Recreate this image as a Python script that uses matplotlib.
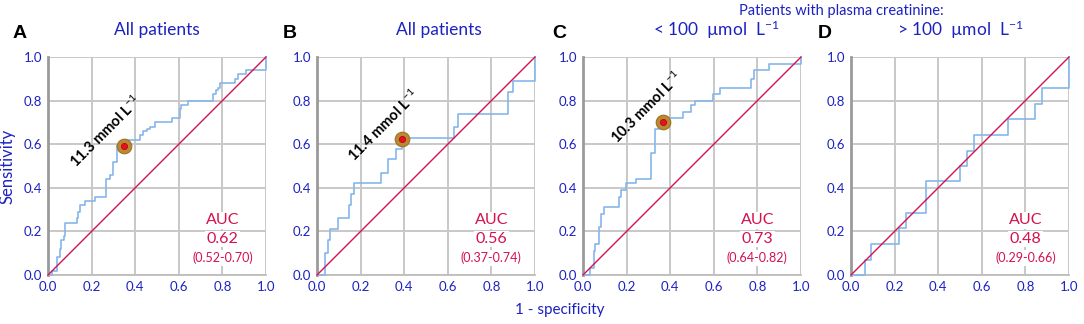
import matplotlib
matplotlib.use('Agg')
import matplotlib.pyplot as plt
import numpy as np

plt.rcParams['font.family'] = ['Lato', 'DejaVu Sans']
plt.rcParams['mathtext.fontset'] = 'custom'
plt.rcParams['mathtext.rm'] = 'Lato'
plt.rcParams['mathtext.it'] = 'Lato:italic'
plt.rcParams['mathtext.bf'] = 'Lato:bold'

# ROC staircase points: x where the curve steps up, y after the step
fpr_a = [0, 0.02, 0.04, 0.041, 0.053, 0.061, 0.072, 0.076, 0.08, 0.133, 0.138, 0.148, 0.17, 0.214,
         0.267, 0.285, 0.30, 0.316, 0.36, 0.42, 0.435, 0.455, 0.47, 0.49, 0.57, 0.605, 0.61, 0.64,
         0.755, 0.77, 0.78, 0.79, 0.858, 0.87, 0.91, 1.0]
tpr_a = [0, 0.02, 0.06, 0.084, 0.12, 0.16, 0.18, 0.21, 0.24, 0.26, 0.29, 0.32, 0.34, 0.36,
         0.44, 0.46, 0.52, 0.595, 0.62, 0.64, 0.66, 0.67, 0.68, 0.70, 0.72, 0.76, 0.78, 0.80,
         0.83, 0.85, 0.86, 0.88, 0.90, 0.92, 0.94, 1.0]

fpr_b = [0, 0.038, 0.05, 0.058, 0.096, 0.148, 0.155, 0.168, 0.293, 0.324, 0.363, 0.39, 0.405,
         0.629, 0.645, 0.878, 0.898, 1.0]
tpr_b = [0, 0.10, 0.16, 0.21, 0.26, 0.32, 0.37, 0.42, 0.47, 0.53, 0.58, 0.62, 0.63,
         0.68, 0.74, 0.84, 0.89, 1.0]

fpr_c = [0, 0.03, 0.049, 0.055, 0.072, 0.084, 0.095, 0.163, 0.176, 0.198, 0.244, 0.311, 0.328,
         0.35, 0.37, 0.389, 0.461, 0.495, 0.514, 0.598, 0.629, 0.771, 0.786, 0.855, 1.0]
tpr_c = [0, 0.03, 0.11, 0.14, 0.22, 0.28, 0.31, 0.36, 0.39, 0.42, 0.44, 0.56, 0.67,
         0.68, 0.70, 0.72, 0.75, 0.78, 0.80, 0.83, 0.86, 0.90, 0.94, 0.97, 1.0]

fpr_d = [0, 0.0625, 0.094, 0.219, 0.25, 0.344, 0.5, 0.531, 0.5625, 0.719, 0.844, 0.875, 1.0]
tpr_d = [0, 0.071, 0.143, 0.214, 0.286, 0.429, 0.5, 0.571, 0.643, 0.714, 0.786, 0.857, 1.0]

# optimal cut-offs (fpr, tpr) and their labels
cut_a, cut_b, cut_c = (0.347, 0.594), (0.389, 0.623), (0.369, 0.704)
cutlab_a = '11.3 mmol L$^{-1}$'
cutlab_b = '11.4 mmol L$^{-1}$'
cutlab_c = '10.3 mmol L$^{-1}$'

auc_vals = ['0.62', '0.56', '0.73', '0.48']
auc_ci = ['(0.52-0.70)', '(0.37-0.74)', '(0.64-0.82)', '(0.29-0.66)']
letters = ['A', 'B', 'C', 'D']
titles = ['All patients', 'All patients', '< 100  µmol  L$^{-1}$', '> 100  µmol  L$^{-1}$']
ticks = [0, 0.2, 0.4, 0.6, 0.8, 1.0]

BLUE = '#1c22c0'
RED = '#d3124e'
CURVE = '#86b6ec'

fig = plt.figure(figsize=(10.84, 3.24), dpi=100)
W, H = 1084, 324
lefts = [48, 317, 583, 851]
curves = [(fpr_a, tpr_a), (fpr_b, tpr_b), (fpr_c, tpr_c), (fpr_d, tpr_d)]
cuts = [(cut_a, cutlab_a, (0.263, 0.658)), (cut_b, cutlab_b, (0.308, 0.685)),
        (cut_c, cutlab_c, (0.29, 0.77)), None]
title_x = [0.5, 0.56, 0.61, 0.5]
letter_x = [20, 290, 559, 825]

for i in range(4):
    ax = fig.add_axes([lefts[i] / W, 49 / H, 218 / W, 218 / H])
    ax.set_xlim(0, 1)
    ax.set_ylim(0, 1)
    ax.set_xticks(ticks)
    ax.set_yticks(ticks)
    ax.set_xticklabels(['%.1f' % t for t in ticks])
    ax.set_yticklabels(['%.1f' % t for t in ticks])
    ax.tick_params(length=0, labelsize=9.5, labelcolor=BLUE, pad=4)
    ax.grid(True, color='#c8c8c8', lw=1.4, zorder=0)
    ax.set_axisbelow(True)
    for s in ['top', 'right']:
        ax.spines[s].set_visible(False)
    ax.spines['left'].set_color('#9a9a9a')
    ax.spines['left'].set_linewidth(2)
    ax.spines['bottom'].set_color('#bdbdbd')
    ax.spines['bottom'].set_linewidth(1.3)

    fx, ty = curves[i]
    ax.step(fx, ty, where='post', color=CURVE, lw=1.2, zorder=3, clip_on=False)
    ax.plot([0, 1], [0, 1], color=RED, lw=1.0, zorder=4, clip_on=False)

    if cuts[i] is not None:
        (cx, cy), lab, (tx, tyy) = cuts[i]
        ax.plot(cx, cy, 'o', ms=10.5, mfc='#b98a35', mec='#a07020', mew=0.8, zorder=5)
        ax.plot(cx, cy, 'o', ms=4.5, mfc='#e8101c', mec='#b00010', mew=0.5, zorder=6)
        ax.text(tx, tyy, lab, rotation=45, ha='center', va='center', fontsize=10.5,
                fontweight='bold', color='black', zorder=7)

    ax.text(0.8, 0.25, 'AUC', ha='center', va='center', fontsize=11.5, color=RED, zorder=8,
            bbox=dict(facecolor='white', edgecolor='none', pad=1))
    ax.text(0.8, 0.165, auc_vals[i], ha='center', va='center', fontsize=11.5, color=RED, zorder=8,
            bbox=dict(facecolor='white', edgecolor='none', pad=1))
    ax.text(0.8, 0.078, auc_ci[i], ha='center', va='center', fontsize=9, color=RED, zorder=8,
            bbox=dict(facecolor='white', edgecolor='none', pad=1))

    ax.text(title_x[i], 1.125, titles[i], transform=ax.transAxes, ha='center', va='center',
            fontsize=12.5, color=BLUE)
    fig.text(letter_x[i] / W, 1 - 33 / H, letters[i], ha='center', va='center',
             fontsize=14, fontweight='bold', color='black', family=['Liberation Sans', 'DejaVu Sans'])

    if i == 0:
        ax.set_ylabel('Sensitivity', fontsize=12, color=BLUE, labelpad=6)

fig.text(560 / W, 1 - 310 / H, '1 - specificity', ha='center', va='center', fontsize=11, color=BLUE)
fig.text(841 / W, 1 - 11 / H, 'Patients with plasma creatinine:', ha='center', va='center',
         fontsize=10.5, color=BLUE)

fig.savefig('out.png', dpi=100)
